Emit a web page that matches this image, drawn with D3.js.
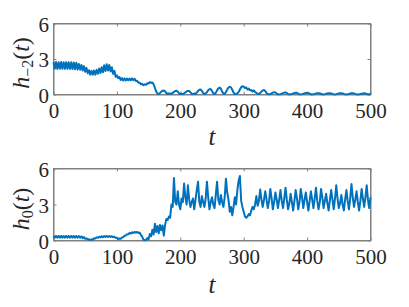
<!DOCTYPE html>
<html><head><meta charset="utf-8">
<script src="https://cdn.jsdelivr.net/npm/d3@7"></script>
<style>body{margin:0;background:#fff}svg{display:block}
svg text{font-family:"Liberation Serif" !important}
</style>
</head><body>
<svg id="c" width="409" height="307"></svg>
<script>
// time grid: t = 0, 2, 4, ..., 500
const tTimes = d3.range(0, 501, 2);
const xTicks = [0, 100, 200, 300, 400, 500];
const yTicks = [0, 3, 6];

// h_{-2}(t), one row per 20 time units
const hm2 = [
  2.73, 2.17, 2.74, 2.16, 2.73, 2.17, 2.74, 2.17, 2.73, 2.16,
  2.73, 2.17, 2.73, 2.16, 2.72, 2.15, 2.70, 2.13, 2.68, 2.10,
  2.57, 2.10, 2.50, 2.03, 2.40, 1.92, 2.25, 1.80, 2.05, 1.68,
  2.00, 1.68, 2.02, 1.68, 2.08, 1.75, 2.20, 1.82, 2.30, 1.88,
  2.48, 1.98, 2.55, 2.02, 2.50, 1.95, 2.30, 1.75, 2.00, 1.50,
  1.62, 1.38, 1.48, 1.22, 1.38, 1.18, 1.36, 1.18, 1.35, 1.20,
  1.35, 1.20, 1.36, 1.20, 1.32, 1.15, 1.15, 1.00, 1.00, 0.85,
  0.90, 0.78, 0.86, 0.82, 0.95, 0.92, 1.05, 0.98, 1.02, 0.85,
  0.55, 0.25, 0.06, 0.03, 0.12, 0.24, 0.32, 0.34, 0.26, 0.12,
  0.05, 0.10, 0.04, 0.08, 0.14, 0.22, 0.30, 0.32, 0.24, 0.10,
  0.04, 0.08, 0.03, 0.10, 0.18, 0.26, 0.30, 0.30, 0.18, 0.06,
  0.03, 0.08, 0.04, 0.16, 0.30, 0.40, 0.42, 0.30, 0.12, 0.04,
  0.08, 0.20, 0.36, 0.45, 0.46, 0.30, 0.10, 0.04, 0.15, 0.35,
  0.52, 0.58, 0.50, 0.25, 0.06, 0.05, 0.20, 0.42, 0.58, 0.65,
  0.60, 0.40, 0.15, 0.04, 0.06, 0.10, 0.20, 0.42, 0.62, 0.70,
  0.66, 0.55, 0.60, 0.42, 0.50, 0.35, 0.38, 0.25, 0.35, 0.20,
  0.15, 0.06, 0.04, 0.12, 0.25, 0.35, 0.38, 0.30, 0.12, 0.04,
  0.02, 0.04, 0.08, 0.16, 0.20, 0.18, 0.08, 0.02, 0.01, 0.03,
  0.06, 0.12, 0.16, 0.17, 0.12, 0.04, 0.01, 0.02, 0.05, 0.08,
  0.12, 0.15, 0.14, 0.08, 0.03, 0.01, 0.03, 0.06, 0.09, 0.12,
  0.13, 0.12, 0.07, 0.02, 0.01, 0.03, 0.05, 0.08, 0.10, 0.11,
  0.10, 0.06, 0.02, 0.01, 0.03, 0.06, 0.08, 0.10, 0.11, 0.09,
  0.05, 0.02, 0.01, 0.03, 0.06, 0.08, 0.10, 0.11, 0.09, 0.05,
  0.02, 0.01, 0.03, 0.05, 0.08, 0.10, 0.11, 0.09, 0.05, 0.02,
  0.01, 0.02, 0.04, 0.07, 0.09, 0.10, 0.08, 0.05, 0.02, 0.03,
  0.05
];

// h_0(t), one row per 20 time units
const h0 = [
  0.38, 0.24, 0.38, 0.24, 0.38, 0.24, 0.38, 0.24, 0.38, 0.24,
  0.38, 0.24, 0.38, 0.24, 0.38, 0.24, 0.38, 0.24, 0.38, 0.24,
  0.37, 0.24, 0.34, 0.20, 0.28, 0.14, 0.18, 0.08, 0.10, 0.04,
  0.10, 0.08, 0.18, 0.16, 0.26, 0.22, 0.32, 0.26, 0.36, 0.28,
  0.37, 0.29, 0.38, 0.30, 0.37, 0.29, 0.36, 0.27, 0.32, 0.22,
  0.22, 0.13, 0.16, 0.14, 0.25, 0.28, 0.40, 0.42, 0.52, 0.52,
  0.62, 0.58, 0.68, 0.62, 0.72, 0.64, 0.72, 0.62, 0.66, 0.45,
  0.30, 0.06, 0.02, 0.05, 0.20, 0.10, 0.55, 0.35, 0.90, 0.50,
  1.40, 0.70, 1.20, 0.60, 1.30, 0.85, 1.25, 0.40, 1.30, 1.80,
  1.70, 2.00, 1.90, 3.00, 2.80, 5.20, 3.20, 3.00, 4.10, 3.00,
  2.60, 3.50, 3.20, 4.75, 3.60, 3.00, 4.60, 3.40, 2.80, 3.20,
  3.50, 2.60, 3.40, 4.20, 4.90, 3.20, 2.80, 3.70, 3.20, 2.80,
  3.50, 4.90, 3.60, 2.60, 3.20, 3.60, 3.00, 2.70, 3.80, 4.90,
  3.40, 3.00, 3.80, 3.20, 2.80, 3.60, 5.15, 4.00, 3.40, 2.40,
  2.80, 2.10, 2.80, 3.60, 3.00, 4.20, 5.00, 5.38, 3.30, 2.80,
  2.40, 2.00, 1.90, 2.00, 2.20, 2.10, 2.50, 2.80, 2.60, 3.00,
  3.70, 2.90, 3.30, 4.25, 3.40, 2.80, 3.40, 4.10, 3.40, 2.70,
  3.30, 4.30, 3.50, 2.60, 3.20, 4.00, 3.40, 2.70, 3.40, 4.20,
  3.30, 2.70, 3.50, 4.40, 3.40, 2.60, 3.10, 3.90, 3.20, 2.50,
  3.30, 4.20, 3.50, 2.60, 3.20, 4.30, 3.60, 2.70, 3.40, 4.00,
  3.20, 2.50, 3.30, 4.10, 3.40, 2.70, 3.50, 4.40, 3.30, 2.60,
  3.20, 4.30, 3.60, 2.70, 3.30, 3.90, 3.10, 2.50, 3.40, 4.20,
  3.40, 2.60, 3.50, 4.60, 3.50, 2.70, 3.10, 3.80, 3.00, 2.50,
  3.40, 4.20, 3.30, 2.60, 3.50, 4.70, 3.60, 2.80, 3.40, 4.10,
  3.20, 2.50, 3.30, 4.30, 3.50, 2.80, 3.60, 4.60, 3.40, 2.70,
  3.60
];

const svg = d3.select("#c");
const left = 53.5, right = 370.5;
const panels = [
  {values: hm2, top: 23.5, bottom: 94.5, sub: "\u22122", tLabelY: 145, yLabelCenter: 63},
  {values: h0,  top: 168.5, bottom: 240.5, sub: "0", tLabelY: 293, yLabelCenter: 209}
];

const axisColor = "#808080";
const textColor = "#262626";
const fontFam = "Liberation Serif";

panels.forEach(p => {
  const x = d3.scaleLinear().domain([0, 500]).range([left, right]);
  const y = d3.scaleLinear().domain([0, 6]).range([p.bottom, p.top]);
  const g = svg.append("g");

  g.append("rect").attr("x", left).attr("y", p.top).attr("width", right - left).attr("height", p.bottom - p.top)
    .attr("fill", "none").attr("stroke", axisColor);

  const bx = g.append("g").attr("transform", `translate(0,${p.bottom})`)
    .call(d3.axisBottom(x).tickValues(xTicks).tickSizeInner(-3).tickSizeOuter(0).tickFormat(d3.format("d")));
  bx.selectAll("text").attr("y", 23).attr("dy", 0);
  const tx = g.append("g").attr("transform", `translate(0,${p.top})`)
    .call(d3.axisTop(x).tickValues(xTicks).tickSizeInner(-3).tickSizeOuter(0).tickFormat(""));
  const ly = g.append("g").attr("transform", `translate(${left},0)`)
    .call(d3.axisLeft(y).tickValues(yTicks).tickSizeInner(-3).tickSizeOuter(0).tickFormat(d3.format("d")));
  ly.selectAll("text").attr("x", -4.5).attr("dy", "0.36em");
  const ry = g.append("g").attr("transform", `translate(${right},0)`)
    .call(d3.axisRight(y).tickValues(yTicks).tickSizeInner(-3).tickSizeOuter(0).tickFormat(""));

  [bx, tx, ly, ry].forEach(a => {
    a.attr("font-family", fontFam).attr("font-size", 21);
    a.selectAll("path.domain").attr("stroke", axisColor);
    a.selectAll(".tick line").attr("stroke", axisColor);
    a.selectAll("text").attr("fill", textColor).attr("font-family", fontFam).attr("font-size", 21);
  });

  const line = d3.line().x((d, i) => x(tTimes[i])).y(d => y(d));
  g.append("path").datum(p.values).attr("d", line)
    .attr("fill", "none").attr("stroke", "#0072BD").attr("stroke-width", 2)
    .attr("stroke-linejoin", "round");

  g.append("text").attr("x", (left + right) / 2).attr("y", p.tLabelY)
    .attr("text-anchor", "middle").attr("fill", textColor)
    .attr("font-family", fontFam).attr("font-style", "italic").attr("font-size", 25).text("t");

  const yl = g.append("text").attr("transform", `translate(29,${p.yLabelCenter}) rotate(-90)`)
    .attr("text-anchor", "middle").attr("fill", textColor)
    .attr("font-family", fontFam).attr("font-size", 24);
  yl.append("tspan").attr("font-style", "italic").text("h");
  yl.append("tspan").attr("dy", 4).attr("font-size", 16).text(p.sub);
  yl.append("tspan").attr("dy", -4).text("(");
  yl.append("tspan").attr("font-style", "italic").text("t");
  yl.append("tspan").text(")");
});
</script>
</body></html>
